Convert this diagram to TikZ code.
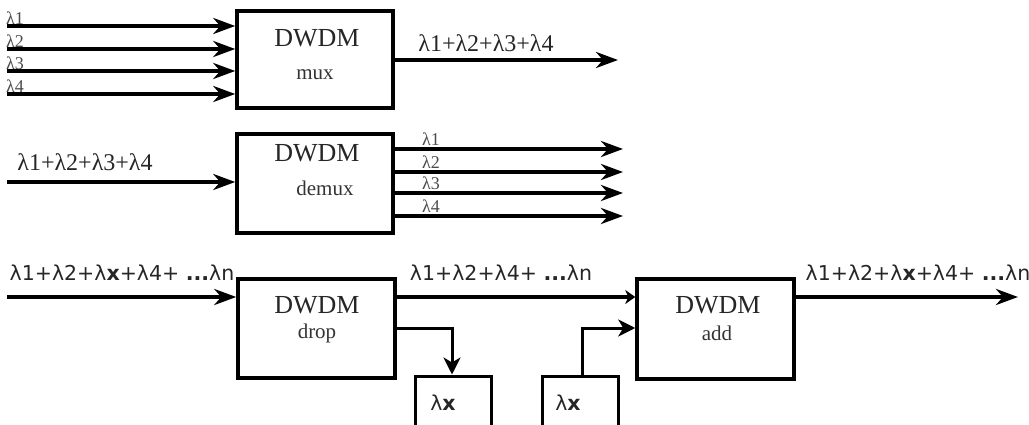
\documentclass[tikz,border=0pt]{standalone}
\usepackage{fontspec}
\setmainfont{Liberation Serif}
\newfontfamily\sansf{DejaVu Sans}
\usetikzlibrary{arrows.meta}
\begin{document}
\begin{tikzpicture}[x=1pt,y=-1pt,
  dbox/.style={draw, line width=3.5pt, rectangle, inner sep=0pt},
  xbox/.style={draw, line width=3pt, rectangle, inner sep=0pt, minimum width=76pt, minimum height=64pt},
  big/.style={font=\fontsize{26}{26}\selectfont, text=black!85, inner sep=0pt},
  sub/.style={font=\fontsize{21}{21}\selectfont, text=black!80, inner sep=0pt},
  lab/.style={font=\fontsize{18}{18}\selectfont, text=black!70, inner sep=0pt},
  slab/.style={font=\fontsize{24}{24}\selectfont, text=black!85, inner sep=0pt},
  sans/.style={font=\sansf\fontsize{20.5}{20.5}\selectfont, text=black!85, inner sep=0pt},
  arr/.style={line width=4pt, -{Stealth[length=22pt,width=16pt,inset=7pt]}},
  arrs/.style={line width=3.5pt, -{Stealth[length=10pt,width=14pt,inset=3pt]}},
  arrb/.style={line width=3pt, -{Stealth[length=17pt,width=17pt,inset=5pt]}}
]
\useasboundingbox (0,0) rectangle (1029,425);
\clip (0,0) rectangle (1029,425);

% ---------- MUX ----------
\node[dbox, minimum width=156pt, minimum height=97pt] (mux) at (315,59.5) {};
\node[big] (muxt) at (317,38) {DWDM};
\node[sub] (muxs) at (315,75) {mux};
\foreach \i/\y in {1/26,2/49,3/71,4/94}{
  \coordinate (mi\i) at (7,\y);
  \draw[arr] (mi\i) -- (mi\i -| mux.west);
  \node[lab, anchor=west] (ml\i) at (6,\y-8) {λ\i};
}
\coordinate (mo) at (618,60);
\draw[arr] (mux.east |- mo) -- (mo);
\node[slab] (mol) at (486,43) {λ1+λ2+λ3+λ4};

% ---------- DEMUX ----------
\node[dbox, minimum width=156pt, minimum height=99pt] (dmx) at (315,183.5) {};
\node[big] (dmxt) at (317,153) {DWDM};
\node[sub] (dmxs) at (325,188) {demux};
\coordinate (di) at (7,182);
\draw[arr] (di) -- (di -| dmx.west);
\node[slab] (dil) at (85,162) {λ1+λ2+λ3+λ4};
\foreach \i/\y in {1/149,2/172,3/193,4/216}{
  \coordinate (do\i) at (623,\y);
  \draw[arr] (dmx.east |- do\i) -- (do\i);
  \node[lab, anchor=west] (dl\i) at (422,\y-10) {λ\i};
}

% ---------- DROP / ADD ----------
\node[dbox, minimum width=157pt, minimum height=99pt] (drop) at (316.5,328.5) {};
\node[big] (dropt) at (317,305) {DWDM};
\node[sub] (drops) at (317,333) {drop};
\node[dbox, minimum width=157pt, minimum height=100pt] (add) at (715.5,329) {};
\node[big] (addt) at (718,305) {DWDM};
\node[sub] (adds) at (717,333) {add};

\coordinate (ri) at (7,297);
\draw[arr] (ri) -- (ri -| drop.west);
\node[sans] (ril) at (122,273) {λ1+λ2+λ\textbf{x}+λ4+ \textbf{...}λn};

\draw[arrs] (drop.east |- ri) -- (add.west |- ri);
\node[sans] (thl) at (501,273) {λ1+λ2+λ4+ \textbf{...}λn};

\coordinate (ro) at (1018,297);
\draw[arr] (add.east |- ro) -- (ro);
\node[sans] (rol) at (918,273) {λ1+λ2+λ\textbf{x}+λ4+ \textbf{...}λn};

\node[xbox] (lx1) at (453,408) {};
\node[sans] (lx1t) at (443,403) {λ\textbf{x}};
\node[xbox] (lx2) at (580,408) {};
\node[sans] (lx2t) at (568,403) {λ\textbf{x}};

\coordinate (c1) at (452,328);
\draw[arrb] (drop.east |- c1) -- (c1) -- (c1 |- lx1.north);
\coordinate (c2) at (582,328);
\draw[arrb] (c2 |- lx2.north) -- (c2) -- (c2 -| add.west);
\end{tikzpicture}
\end{document}
